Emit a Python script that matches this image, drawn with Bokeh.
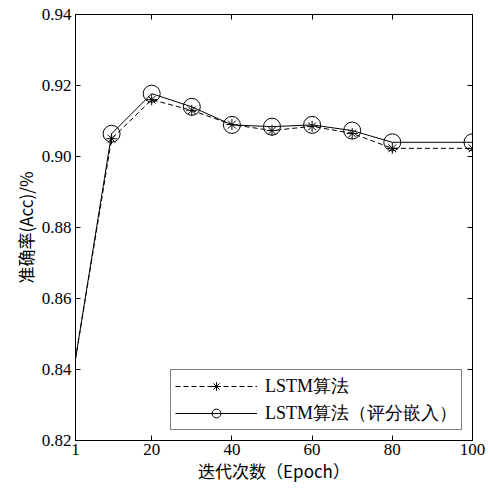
from bokeh.plotting import figure
from bokeh.models import (ColumnDataSource, FixedTicker, PrintfTickFormatter, LinearAxis,
                          Legend, LegendItem, Range1d)
from bokeh.embed import file_html
from bokeh.resources import INLINE

epochs = [1, 10, 20, 30, 40, 50, 60, 70, 80, 100]
lstm_acc = [0.843, 0.905, 0.916, 0.913, 0.909, 0.9073, 0.9085, 0.9065, 0.9023, 0.9023]
lstm_score_acc = [0.843, 0.9064, 0.9177, 0.914, 0.9089, 0.9084, 0.9089, 0.9073, 0.904, 0.904]
x_ticks = [1, 20, 40, 60, 80, 100]
y_ticks = [0.82, 0.84, 0.86, 0.88, 0.90, 0.92, 0.94]
series_names = ["LSTM算法", "LSTM算法（评分嵌入）"]

SERIF = "Liberation Serif"
CJK = "Noto Sans CJK SC"

p = figure(output_backend="svg", toolbar_location=None,
           frame_width=397, frame_height=426,
           min_border_left=75, min_border_right=16, min_border_top=14, min_border_bottom=50,
           x_range=Range1d(1, 100), y_range=Range1d(0.82, 0.94))
p.background_fill_color = "white"
p.border_fill_color = "white"
p.outline_line_color = "black"
p.outline_line_width = 1
p.grid.visible = False

src1 = ColumnDataSource(dict(x=epochs, y=lstm_acc))
src2 = ColumnDataSource(dict(x=epochs, y=lstm_score_acc))
msrc1 = ColumnDataSource(dict(x=epochs[1:], y=lstm_acc[1:]))
msrc2 = ColumnDataSource(dict(x=epochs[1:], y=lstm_score_acc[1:]))

l1 = p.line("x", "y", source=src1, line_color="black", line_width=1, line_dash="5 3")
m1 = p.scatter("x", "y", source=msrc1, marker="asterisk", size=11, line_color="black", line_width=1)
l2 = p.line("x", "y", source=src2, line_color="black", line_width=1)
m2 = p.scatter("x", "y", source=msrc2, marker="circle", size=17, fill_color=None,
               line_color="black", line_width=1)

for ax in (p.xaxis[0], p.yaxis[0]):
    ax.major_tick_in = 5
    ax.major_tick_out = 0
    ax.minor_tick_in = 0
    ax.minor_tick_out = 0
    ax.axis_line_color = "black"
    ax.major_label_text_font = SERIF
    ax.major_label_text_font_size = "17px"
    ax.major_label_text_color = "black"
    ax.axis_label_text_font = CJK
    ax.axis_label_text_font_style = "normal"
    ax.axis_label_text_font_size = "17px"
    ax.axis_label_text_color = "black"

p.xaxis[0].ticker = FixedTicker(ticks=x_ticks)
p.yaxis[0].ticker = FixedTicker(ticks=y_ticks)
p.yaxis[0].formatter = PrintfTickFormatter(format="%.2f")
p.xaxis[0].major_label_standoff = 3
p.yaxis[0].major_label_standoff = 4
p.xaxis[0].axis_label = "迭代次数（Epoch）"
p.yaxis[0].axis_label = "准确率(Acc)/%"
p.xaxis[0].axis_label_standoff = 0
p.yaxis[0].axis_label_standoff = 1

right = LinearAxis(ticker=FixedTicker(ticks=y_ticks), major_tick_in=5, major_tick_out=0,
                   minor_tick_in=0, minor_tick_out=0,
                   major_label_overrides={t: "" for t in y_ticks},
                   axis_line_color="black")
top = LinearAxis(ticker=FixedTicker(ticks=x_ticks), major_tick_in=5, major_tick_out=0,
                 minor_tick_in=0, minor_tick_out=0,
                 major_label_overrides={t: "" for t in x_ticks},
                 axis_line_color="black")
p.add_layout(right, "right")
p.add_layout(top, "above")
p.min_border_right = 16
p.min_border_top = 14

legend = Legend(items=[LegendItem(label=series_names[0], renderers=[l1, m1]),
                       LegendItem(label=series_names[1], renderers=[l2, m2])],
                location=(95, 10))
legend.glyph_width = 82
legend.glyph_height = 22
legend.label_text_font = SERIF
legend.label_text_font_size = "18px"
legend.label_text_color = "black"
legend.border_line_color = "black"
legend.border_line_width = 1
legend.background_fill_alpha = 1
legend.margin = 0
legend.padding = 4
legend.spacing = 3
legend.label_standoff = 8
p.add_layout(legend, "center")

open("out.html", "w").write(file_html(p, INLINE))
